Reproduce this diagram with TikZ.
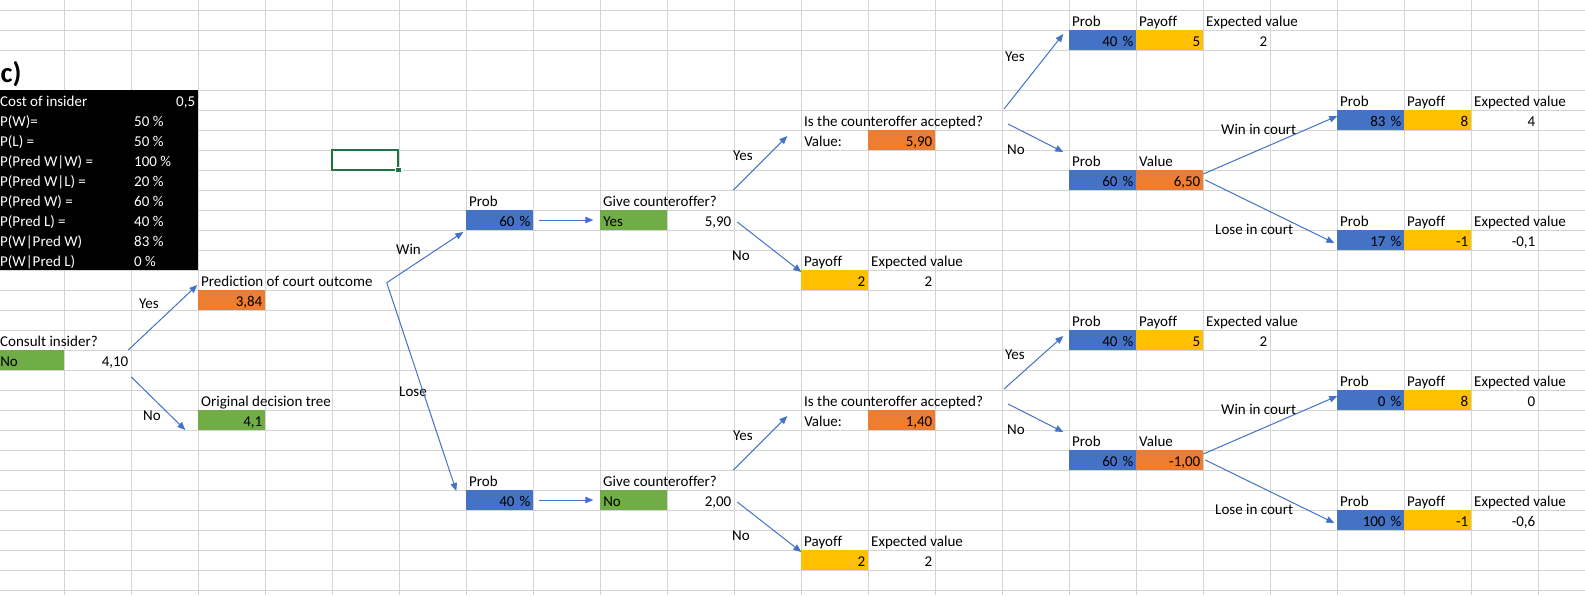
\documentclass[tikz,border=0pt]{standalone}
\usepackage{fontspec}
\setmainfont{Carlito}[Ligatures=NoCommon]
\usepackage{tikz}
\usetikzlibrary{arrows.meta}
\definecolor{xlblue}{HTML}{4472C4}
\definecolor{xlorange}{HTML}{ED7D31}
\definecolor{xlgold}{HTML}{FFC000}
\definecolor{xlgreen}{HTML}{70AD47}
\definecolor{xlgrid}{HTML}{D4D4D4}
\definecolor{xlsel}{HTML}{217346}
\newcommand{\xlfont}{\fontsize{15}{18}\selectfont}
\tikzset{
  cell/.style={anchor=north west, minimum width=67pt, minimum height=20pt, inner sep=0pt, outer sep=0pt,
    text width=61pt, text height=16.5pt, text depth=3.5pt, align=right},
  lcell/.style={cell, align=left},
  lab/.style={anchor=base west, inner sep=0pt},
  inv/.style={lab, text=white},
  gridline/.style={xlgrid, line width=1pt},
  arr/.style={xlblue, line width=1pt, -{Triangle[length=8pt,width=6.5pt]}},
}

\begin{document}
\begin{tikzpicture}[x=1pt, y=-1pt, font=\xlfont]
  \useasboundingbox (0,0) rectangle (1585,595);
  \fill[white] (0,0) rectangle (1585,595);
  \foreach \i in {0,...,23} \draw[gridline] ({-2.7+67*\i},0) -- ++(0,595);
  \draw[gridline] (0,10) -- (1585,10) (0,30) -- (1585,30) (0,50) -- (1585,50);
  \foreach \j in {90,110,...,590} \draw[gridline] (0,\j) -- (1585,\j);

  \node[lab, font=\fontsize{28.5}{30}\selectfont\bfseries] (part) at (0.5,82) {c)};
  \fill[black] (0,90) rectangle (198.3,270);
  \node[inv] (cost) at (0,106.5) {Cost of insider};
  \node[inv, anchor=base east] (costv) at (195.3,106.5) {0,5};
  \node[inv] (pw) at (0,126.5) {P(W)=};
  \node[inv] (pwv) at (134,126.5) {50 \%};
  \node[inv] (pl) at (0,146.5) {P(L) =};
  \node[inv] (plv) at (134,146.5) {50 \%};
  \node[inv] (ppww) at (0,166.5) {P(Pred W|W) =};
  \node[inv] (ppwwv) at (134,166.5) {100 \%};
  \node[inv] (ppwl) at (0,186.5) {P(Pred W|L) =};
  \node[inv] (ppwlv) at (134,186.5) {20 \%};
  \node[inv] (ppw) at (0,206.5) {P(Pred W) =};
  \node[inv] (ppwv) at (134,206.5) {60 \%};
  \node[inv] (ppl) at (0,226.5) {P(Pred L) =};
  \node[inv] (pplv) at (134,226.5) {40 \%};
  \node[inv] (pwpw) at (0,246.5) {P(W|Pred W)};
  \node[inv] (pwpwv) at (134,246.5) {83 \%};
  \node[inv] (pwpl) at (0,266.5) {P(W|Pred L)};
  \node[inv] (pwplv) at (134,266.5) {0 \%};

  \draw[xlsel, line width=2pt] (332.3,150) rectangle (398.3,170);
  \fill[white] (395,166.8) rectangle (401.6,173.4);
  \fill[xlsel] (396,167.8) rectangle (400.6,172.4);

  \node[lab] (consult) at (0,346.5) {Consult insider?};
  \node[lcell, fill=xlgreen] (cdec) at (-2.7,350) {No};
  \node[cell] (cval) at (64.3,350) {4,10};
  \node[lab] (predlab) at (201,286.5) {Prediction of court outcome};
  \node[cell, fill=xlorange] (pred) at (198.3,290) {3,84};
  \node[lab] (origlab) at (201,406.5) {Original decision tree};
  \node[cell, fill=xlgreen] (orig) at (198.3,410) {4,1};
  \node[lab] (cyes) at (139,308) {Yes};
  \node[lab] (cno) at (143,420.5) {No};
  \node[lab] (win) at (396,254) {Win};
  \node[lab] (lose) at (399,396.5) {Lose};
  \coordinate (split) at (386.7,282.7);

  \node[lab] (wproblab) at (469,206.5) {Prob};
  \node[cell, fill=xlblue] (wp) at (466.3,210) {60 \%};
  \node[lab] (wgivelab) at (603,206.5) {Give counteroffer?};
  \node[lcell, fill=xlgreen] (wgive) at (600.3,210) {Yes};
  \node[cell] (wval) at (667.3,210) {5,90};
  \node[lab] (wacclab) at (804,126.5) {Is the counteroffer accepted?};
  \node[lcell] (wvlab) at (801.3,130) {Value:};
  \node[cell, fill=xlorange] (wacc) at (868.3,130) {5,90};
  \node[lab] (wpaylab) at (804,266.5) {Payoff};
  \node[lab] (wevlab) at (871,266.5) {Expected value};
  \node[cell, fill=xlgold] (wpay) at (801.3,270) {2};
  \node[cell] (wev) at (868.3,270) {2};
  \node[lab] (wyes) at (733,160.5) {Yes};
  \node[lab] (wno) at (732,260.5) {No};

  \node[lab] (wyproblab) at (1072,26.5) {Prob};
  \node[lab] (wypaylab) at (1139,26.5) {Payoff};
  \node[lab] (wyevlab) at (1206,26.5) {Expected value};
  \node[cell, fill=xlblue] (wyp) at (1069.3,30) {40 \%};
  \node[cell, fill=xlgold] (wypay) at (1136.3,30) {5};
  \node[cell] (wyev) at (1203.3,30) {2};
  \node[lab] (wnproblab) at (1072,166.5) {Prob};
  \node[lab] (wnvallab) at (1139,166.5) {Value};
  \node[cell, fill=xlblue] (wnp) at (1069.3,170) {60 \%};
  \node[cell, fill=xlorange] (wnv) at (1136.3,170) {6,50};
  \node[lab] (wwproblab) at (1340,106.5) {Prob};
  \node[lab] (wwpaylab) at (1407,106.5) {Payoff};
  \node[lab] (wwevlab) at (1474,106.5) {Expected value};
  \node[cell, fill=xlblue] (wwp) at (1337.3,110) {83 \%};
  \node[cell, fill=xlgold] (wwpay) at (1404.3,110) {8};
  \node[cell] (wwev) at (1471.3,110) {4};
  \node[lab] (wlproblab) at (1340,226.5) {Prob};
  \node[lab] (wlpaylab) at (1407,226.5) {Payoff};
  \node[lab] (wlevlab) at (1474,226.5) {Expected value};
  \node[cell, fill=xlblue] (wlp) at (1337.3,230) {17 \%};
  \node[cell, fill=xlgold] (wlpay) at (1404.3,230) {-1};
  \node[cell] (wlev) at (1471.3,230) {-0,1};
  \node[lab] (wayes) at (1005,61.5) {Yes};
  \node[lab] (wano) at (1007,154) {No};
  \node[lab] (wwin) at (1221,134) {Win in court};
  \node[lab] (wlose) at (1215,234) {Lose in court};
  \coordinate (wyfork) at (1004,109);
  \coordinate (wnfork) at (1008,124);

  \node[lab] (lproblab) at (469,486.5) {Prob};
  \node[cell, fill=xlblue] (lp) at (466.3,490) {40 \%};
  \node[lab] (lgivelab) at (603,486.5) {Give counteroffer?};
  \node[lcell, fill=xlgreen] (lgive) at (600.3,490) {No};
  \node[cell] (lval) at (667.3,490) {2,00};
  \node[lab] (lacclab) at (804,406.5) {Is the counteroffer accepted?};
  \node[lcell] (lvlab) at (801.3,410) {Value:};
  \node[cell, fill=xlorange] (lacc) at (868.3,410) {1,40};
  \node[lab] (lpaylab) at (804,546.5) {Payoff};
  \node[lab] (levlab) at (871,546.5) {Expected value};
  \node[cell, fill=xlgold] (lpay) at (801.3,550) {2};
  \node[cell] (lev) at (868.3,550) {2};
  \node[lab] (lyes) at (733,440.5) {Yes};
  \node[lab] (lno) at (732,540.5) {No};

  \node[lab] (lyproblab) at (1072,326.5) {Prob};
  \node[lab] (lypaylab) at (1139,326.5) {Payoff};
  \node[lab] (lyevlab) at (1206,326.5) {Expected value};
  \node[cell, fill=xlblue] (lyp) at (1069.3,330) {40 \%};
  \node[cell, fill=xlgold] (lypay) at (1136.3,330) {5};
  \node[cell] (lyev) at (1203.3,330) {2};
  \node[lab] (lnproblab) at (1072,446.5) {Prob};
  \node[lab] (lnvallab) at (1139,446.5) {Value};
  \node[cell, fill=xlblue] (lnp) at (1069.3,450) {60 \%};
  \node[cell, fill=xlorange] (lnv) at (1136.3,450) {-1,00};
  \node[lab] (lwproblab) at (1340,386.5) {Prob};
  \node[lab] (lwpaylab) at (1407,386.5) {Payoff};
  \node[lab] (lwevlab) at (1474,386.5) {Expected value};
  \node[cell, fill=xlblue] (lwp) at (1337.3,390) {0 \%};
  \node[cell, fill=xlgold] (lwpay) at (1404.3,390) {8};
  \node[cell] (lwev) at (1471.3,390) {0};
  \node[lab] (llproblab) at (1340,506.5) {Prob};
  \node[lab] (llpaylab) at (1407,506.5) {Payoff};
  \node[lab] (llevlab) at (1474,506.5) {Expected value};
  \node[cell, fill=xlblue] (llp) at (1337.3,510) {100 \%};
  \node[cell, fill=xlgold] (llpay) at (1404.3,510) {-1};
  \node[cell] (llev) at (1471.3,510) {-0,6};
  \node[lab] (layes) at (1005,359) {Yes};
  \node[lab] (lano) at (1007,434) {No};
  \node[lab] (lwin) at (1221,414) {Win in court};
  \node[lab] (llose) at (1215,514) {Lose in court};
  \coordinate (lyfork) at (1004,389);
  \coordinate (lnfork) at (1008,404);

  \draw[arr] ([xshift=-3pt]cval.north east) -- ([xshift=-1pt,yshift=5pt]pred.north west);
  \draw[arr] ([yshift=-7pt]cval.south east) -- ([xshift=-13pt]orig.south west);
  \draw[arr] (split) -- ([xshift=-3pt,yshift=-2pt]wp.south west);
  \draw[arr] (split) -- ([xshift=-10pt,yshift=-1pt]lp.north west);

  \draw[arr] ([xshift=6pt]wp.east) -- ([xshift=-7pt]wgive.west);
  \draw[arr] ([xshift=-1pt,yshift=20pt]wval.north east) -- ([xshift=-14pt,yshift=-6pt]wvlab.north west);
  \draw[arr] ([xshift=3pt,yshift=-2pt]wval.east) -- ([yshift=-2pt]wpay.north west);
  \draw[arr] (wyfork) -- ([xshift=-6pt,yshift=-4pt]wyp.north west);
  \draw[arr] (wnfork) -- ([xshift=-6pt,yshift=18pt]wnp.north west);
  \draw[arr] ([yshift=-4pt]wnv.north east) -- ([yshift=-6pt]wwp.north west);
  \draw[arr] ([xshift=2pt]wnv.east) -- ([xshift=-3pt,yshift=-3pt]wlp.west);

  \draw[arr] ([xshift=6pt]lp.east) -- ([xshift=-7pt]lgive.west);
  \draw[arr] ([xshift=-1pt,yshift=20pt]lval.north east) -- ([xshift=-14pt,yshift=-6pt]lvlab.north west);
  \draw[arr] ([xshift=3pt,yshift=-2pt]lval.east) -- ([yshift=-2pt]lpay.north west);
  \draw[arr] (lyfork) -- ([xshift=-6pt,yshift=-6pt]lyp.north west);
  \draw[arr] (lnfork) -- ([xshift=-6pt,yshift=18pt]lnp.north west);
  \draw[arr] ([yshift=-4pt]lnv.north east) -- ([yshift=-6pt]lwp.north west);
  \draw[arr] ([xshift=2pt]lnv.east) -- ([xshift=-3pt,yshift=-3pt]llp.west);
\end{tikzpicture}
\end{document}
